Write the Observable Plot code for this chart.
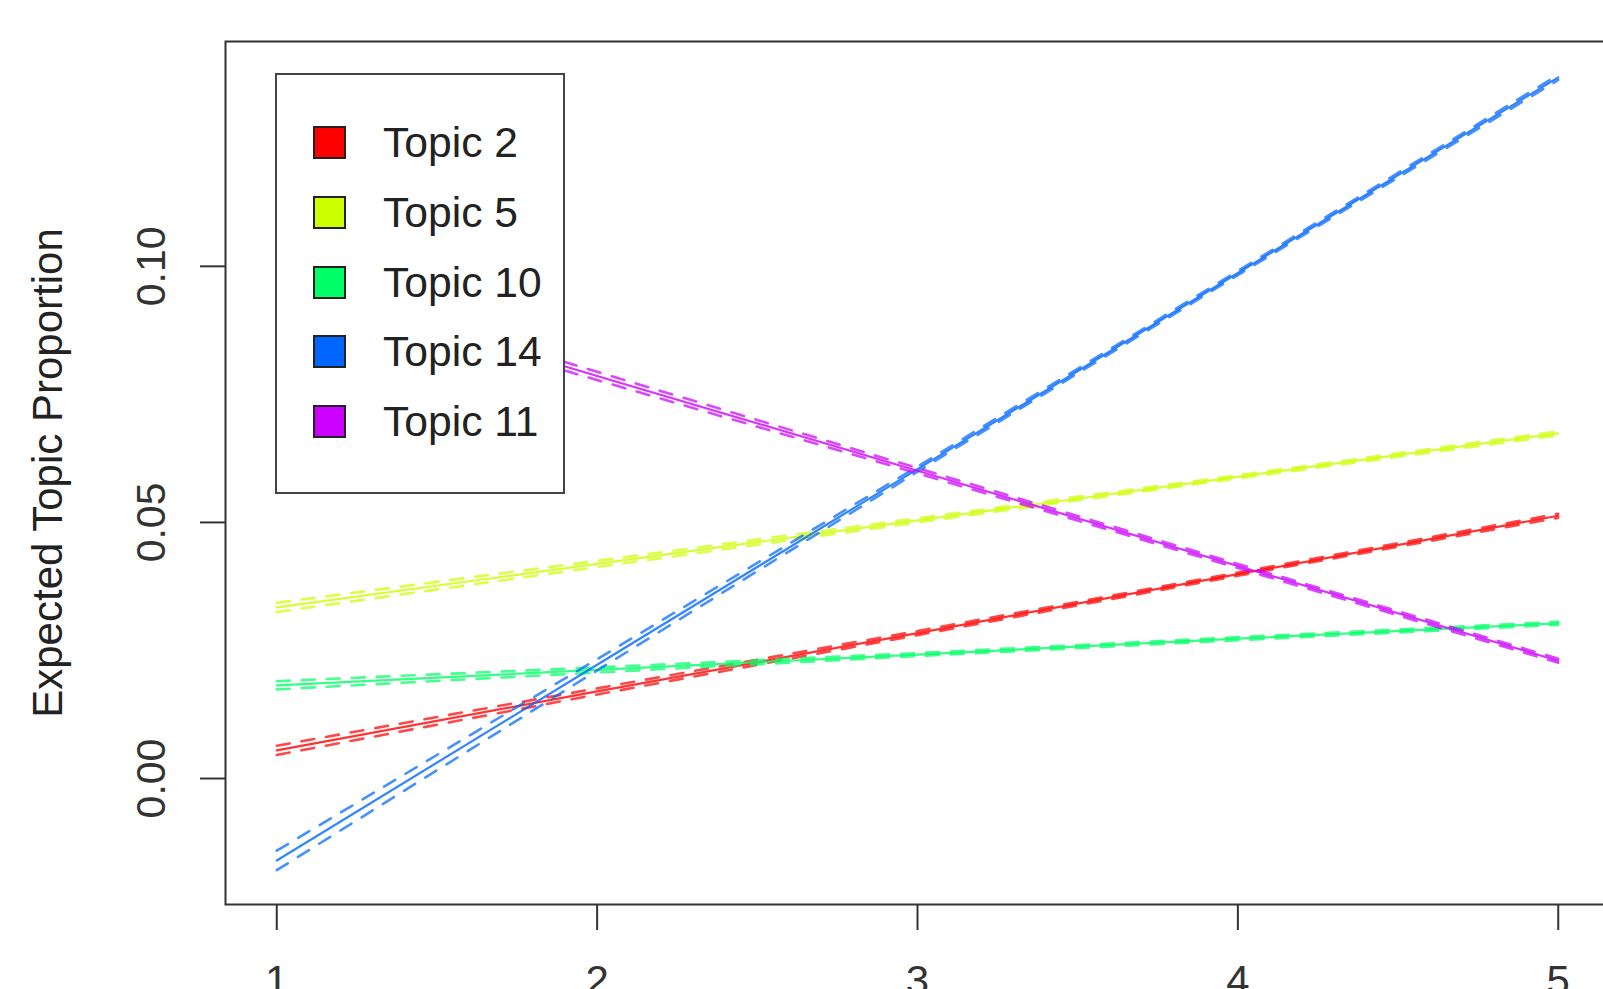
<!DOCTYPE html>
<html><head><meta charset="utf-8">
<script src="https://cdn.jsdelivr.net/npm/d3@7"></script>
<script src="https://cdn.jsdelivr.net/npm/@observablehq/plot@0.6"></script>
<style>
html,body{margin:0;padding:0;background:#fff;overflow:hidden;}
#wrap{position:relative;width:1603px;height:989px;}
#legend{position:absolute;left:275px;top:73px;width:286px;height:417px;border:2px solid #444;background:#fff;font-family:"Liberation Sans",Arial,sans-serif;font-size:42.6px;color:#222;}
.sw{position:absolute;left:36px;width:29px;height:29px;border:2px solid #222;}
.lab{position:absolute;left:106px;white-space:nowrap;height:33px;line-height:33px;}
</style>
</head><body>
<div id="wrap"></div>
<script>
// ---- data ----
const xValues = [1, 2, 3, 4, 5];
const xTicks = [1, 2, 3, 4, 5];
const yTicks = [0, 0.05, 0.10];
const topicNames = ["Topic 2", "Topic 5", "Topic 10", "Topic 14", "Topic 11"];
const topicColors = ["#FF0000", "#CCFF00", "#00FF66", "#0066FF", "#CC00FF"];

const topic2Mean  = [0.0055, 0.0170, 0.0284, 0.0399, 0.0513];
const topic2Lower = [0.0046, 0.0164, 0.0280, 0.0396, 0.0509];
const topic2Upper = [0.0064, 0.0176, 0.0288, 0.0402, 0.0517];

const topic5Mean  = [0.0334, 0.0419, 0.0504, 0.0589, 0.0674];
const topic5Lower = [0.0325, 0.0413, 0.0500, 0.0586, 0.0670];
const topic5Upper = [0.0343, 0.0425, 0.0508, 0.0592, 0.0678];

const topic10Mean  = [0.0182, 0.0212, 0.0242, 0.0273, 0.0303];
const topic10Lower = [0.0174, 0.0207, 0.0239, 0.0270, 0.0300];
const topic10Upper = [0.0190, 0.0217, 0.0245, 0.0276, 0.0306];

const topic14Mean  = [-0.0160, 0.0222, 0.0604, 0.0987, 0.1369];
const topic14Lower = [-0.0179, 0.0211, 0.0599, 0.0983, 0.1364];
const topic14Upper = [-0.0141, 0.0233, 0.0609, 0.0991, 0.1374];

const topic11Mean  = [0.0972, 0.0786, 0.0601, 0.0415, 0.0230];
const topic11Lower = [0.0961, 0.0778, 0.0596, 0.0411, 0.0226];
const topic11Upper = [0.0983, 0.0794, 0.0606, 0.0419, 0.0234];

const series = [
  [topic2Mean, topic2Lower, topic2Upper],
  [topic5Mean, topic5Lower, topic5Upper],
  [topic10Mean, topic10Lower, topic10Upper],
  [topic14Mean, topic14Lower, topic14Upper],
  [topic11Mean, topic11Lower, topic11Upper]
];

// ---- build table ----
const rows = [];
series.forEach((s, i) => {
  ["mean", "lower", "upper"].forEach((kind, k) => {
    s[k].forEach((v, j) => rows.push({topic: topicNames[i], kind, x: xValues[j], value: v}));
  });
});

const lineMarks = [];
topicNames.forEach((t, i) => {
  const col = topicColors[i];
  lineMarks.push(Plot.line(rows.filter(r => r.topic === t && r.kind === "lower"),
    {x: "x", y: "value", stroke: col, strokeWidth: 2.6, strokeOpacity: 0.72, strokeDasharray: "13,12"}));
  lineMarks.push(Plot.line(rows.filter(r => r.topic === t && r.kind === "upper"),
    {x: "x", y: "value", stroke: col, strokeWidth: 2.6, strokeOpacity: 0.72, strokeDasharray: "13,12"}));
  lineMarks.push(Plot.line(rows.filter(r => r.topic === t && r.kind === "mean"),
    {x: "x", y: "value", stroke: col, strokeWidth: 2.2, strokeOpacity: 0.8}));
});

const chart = Plot.plot({
  width: 1603, height: 989,
  marginLeft: 225, marginTop: 41, marginBottom: 85, marginRight: -6,
  style: {fontFamily: "Liberation Sans, Arial, sans-serif", fontSize: "42px", color: "#222", background: "#fff"},
  x: {domain: [0.84, 5.16]},
  y: {domain: [-0.0246, 0.1439]},
  marks: [
    ...lineMarks,
    Plot.frame({stroke: "#333", strokeWidth: 2}),
    Plot.axisX({ticks: xTicks, tickSize: 26, tickPadding: 35, tickFormat: "d", strokeWidth: 2, color: "#333", fontSize: 42, label: null}),
    Plot.axisY({ticks: yTicks, tickSize: 25, tickPadding: 36, tickRotate: -90, tickFormat: ".2f", strokeWidth: 2, color: "#333", fontSize: 41, label: null}),
    Plot.text(["Expected Topic Proportion"], {frameAnchor: "left", dx: -164, rotate: -90, lineAnchor: "bottom", textAnchor: "middle", fontSize: 42, fill: "#222", text: d => d})
  ]
});

const wrap = document.getElementById("wrap");
wrap.appendChild(chart);

// ---- legend (drawn over the plot, like R's legend with white fill) ----
const legend = document.createElement("div");
legend.id = "legend";
topicNames.forEach((t, i) => {
  const sw = document.createElement("div");
  sw.className = "sw";
  sw.style.top = (51 + i * 69.8) + "px";
  sw.style.background = topicColors[i];
  legend.appendChild(sw);
  const lab = document.createElement("div");
  lab.className = "lab";
  lab.style.top = (51 + i * 69.8) + "px";
  lab.textContent = t;
  legend.appendChild(lab);
});
wrap.appendChild(legend);
</script>
</body></html>
